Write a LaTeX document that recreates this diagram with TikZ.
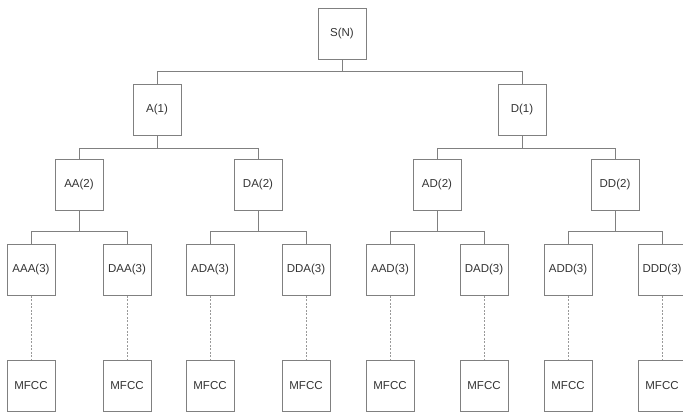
\documentclass[tikz,border=0pt]{standalone}
\usepackage{fontspec}
\setmainfont{Liberation Sans}
\begin{document}
\begin{tikzpicture}[x=1pt,y=-1pt,
  box/.style={draw=linegray,line width=0.9pt,minimum width=48pt,minimum height=51pt,
    inner sep=0pt,text=textgray,font=\fontsize{11.5}{13}\selectfont},
  link/.style={draw=linegray,line width=0.9pt},
  leaf/.style={draw=linegray!80,line width=0.8pt,dash pattern=on 2pt off 1.5pt}]
\definecolor{linegray}{HTML}{808080}
\definecolor{textgray}{HTML}{333333}
\useasboundingbox (0,0) rectangle (683,412);
% tree levels
\node[box] (s) at (342,34) {S(N)};
\node[box] (a) at (157,110) {A(1)};
\node[box] (d) at (522,110) {D(1)};
\node[box] (aa) at (79,185) {AA(2)};
\node[box] (da) at (258,185) {DA(2)};
\node[box] (ad) at (437,185) {AD(2)};
\node[box] (dd) at (615,185) {DD(2)};
\foreach \n/\t/\x in {aaa/AAA(3)/31, daa/DAA(3)/127, ada/ADA(3)/210, dda/DDA(3)/306,
                      aad/AAD(3)/390, dad/DAD(3)/484, add/ADD(3)/568, ddd/DDD(3)/662}{
  \node[box] (\n) at (\x,270) {\t};
  \node[box] (m\n) at (\x,386) {MFCC};
  \draw[leaf] (\n) -- (m\n);
}
% elbow connectors
\draw[link] (s.south) -- ++(0,12) -| (a.north);
\draw[link] (s.south) ++(0,12) -| (d.north);
\draw[link] (a.south) -- ++(0,12) coordinate (ja) -| (aa.north);
\draw[link] (ja) -| (da.north);
\draw[link] (d.south) -- ++(0,12) coordinate (jd) -| (ad.north);
\draw[link] (jd) -| (dd.north);
\draw[link] (aa.south) -- ++(0,20.5) coordinate (jaa) -| (aaa.north);
\draw[link] (jaa) -| (daa.north);
\draw[link] (da.south) -- ++(0,20.5) coordinate (jda) -| (ada.north);
\draw[link] (jda) -| (dda.north);
\draw[link] (ad.south) -- ++(0,20.5) coordinate (jad) -| (aad.north);
\draw[link] (jad) -| (dad.north);
\draw[link] (dd.south) -- ++(0,20.5) coordinate (jdd) -| (add.north);
\draw[link] (jdd) -| (ddd.north);
\end{tikzpicture}
\end{document}
